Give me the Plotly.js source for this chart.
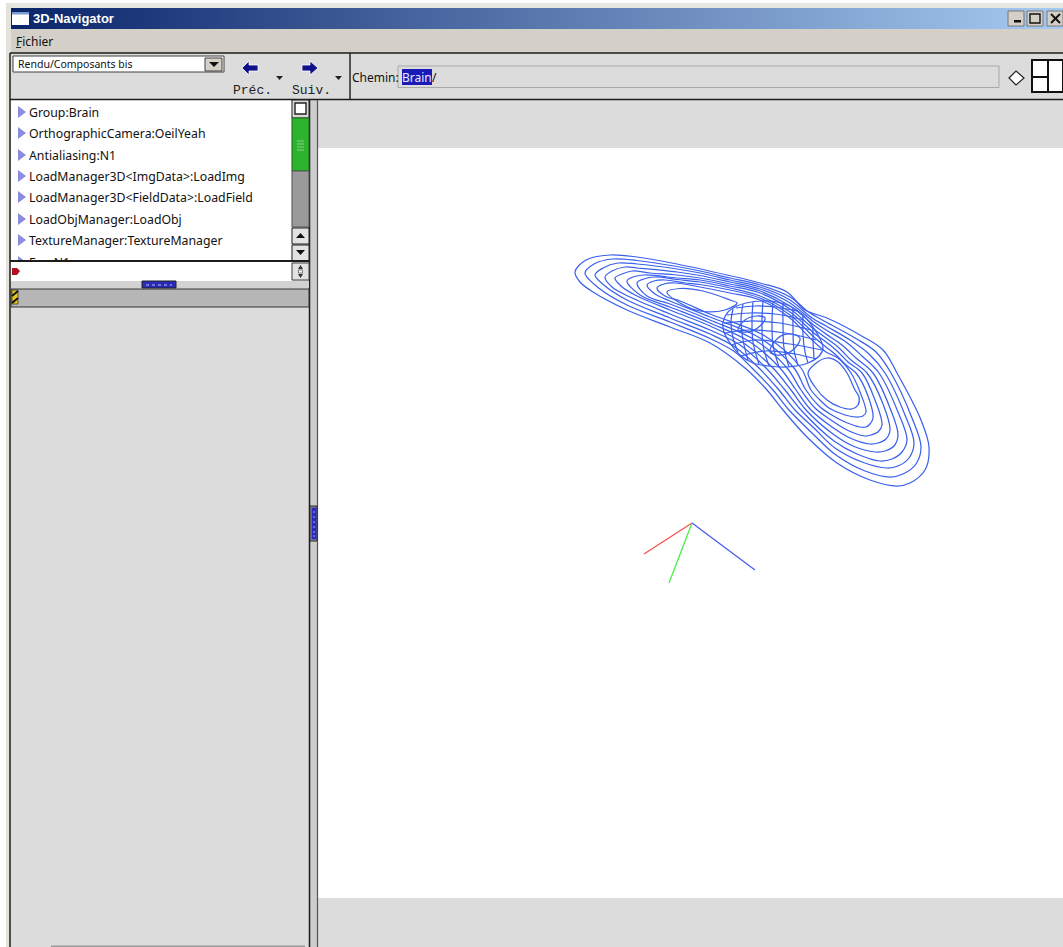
<!DOCTYPE html>
<html><head><meta charset="utf-8">
<script src="https://cdn.plot.ly/plotly-3.0.1.min.js"></script>
<style>html,body{margin:0;padding:0;background:#fff;overflow:hidden}</style>
</head><body><div id="chart" style="width:1063px;height:947px"></div>
<script>
// ---- contour data (screen-like units) ----
const level0=[[575,272],[586,260],[610,255],[637,257],[677,264],[727,275],[760,283],[787,292],[805,310],[827,318],[860,335],[883,350],[897,373],[921,420],[929,447],[925,470],[910,483],[897,486],[870,480],[837,463],[807,437],[783,410],[767,390],[745,368],[710,343],[670,327],[627,310],[593,292],[580,282],[575,272]];
const level1=[[585,273],[594,264],[612,259],[637,260.5],[677,266.5],[700,271],[730,278],[760,285],[790,297],[810,313],[826,322],[855,338],[876,352],[891,373],[912,418],[921,447],[916,464],[903,474],[890,477],[865,471],[836,455],[812,433],[789,410],[773,390],[752,368],[735,352],[710,338.5],[670,322],[627,305],[600,289],[585,273]];
const level2=[[595,275],[603,268],[618,263],[637,264],[677,269],[700,273],[730,280],[760,287],[790,300],[812,318],[826,326],[850,340],[869,354],[885,373],[905,415],[914,443],[909,458],[898,466],[887,468],[862,462],[835,448],[815,429],[795,410],[779,390],[759,368],[735,347],[710,334],[670,318],[627,300],[605,286],[595,275]];
const level3=[[605,277],[612,271],[625,267],[637,268],[677,272],[700,275.5],[730,282],[760,289],[790,303],[814,322],[826,330],[846,342],[862,356],[879,373],[898,412],[907,440],[902,452],[892,459],[880,461],[857,454],[834,441],[801,410],[785,390],[766,368],[740,345],[710,330],[670,314],[630,297],[612,287],[605,277]];
const level4=[[615,278],[622,274],[632,271],[650,273],[677,275],[700,278],[730,284],[760,291],[790,306],[815,326],[826,334],[842,345],[856,358],[873,373],[890,408],[898,435],[894,446],[885,451],[875,452],[853,446],[833,434],[806,410],[791,390],[773,368],[745,344],[710,326],[670,310],[635,295],[621,286],[615,278]];
const level5=[[627,281],[633,277],[645,275],[677,278],[700,280],[730,286],[760,293],[790,309],[815,330],[826,338],[838,347],[851,360],[867,373],[883,404],[890,430],[886,439],[878,443],[870,444],[850,438],[832,427],[811,410],[796,390],[780,368],[750,342],[710,323],[670,307],[640,295],[627,281]];
const level6=[[637,283],[644,279],[655,277],[677,279.5],[700,282],[730,288],[760,296],[790,312],[815,334],[826,342],[836,350],[848,362],[862,373],[875,400],[882,425],[878,432],[871,435],[865,436],[847,430],[831,420],[815,408],[801,390],[787,368],[755,340],[710,320],[670,304],[647,296],[637,283]];
const level7=[[647,285],[654,281],[665,280],[685,283],[700,284.5],[730,290],[760,298],[790,315],[815,338],[826,347],[836,355],[846,365],[856,373],[868,396],[873,418],[870,424],[866,427],[860,427],[845,422],[830,414],[819,406],[806,390],[794,368],[760,338],[710,317],[670,301],[655,294],[647,285]];
const level8=[[657,288],[664,284],[675,283],[700,287],[730,293],[760,300],[790,318],[812,340],[826,352],[838,358],[851,373],[860,392],[866,412],[863,416],[857,417],[845,415],[829,408],[822,402],[811,390],[801,368],[765,336],[710,314],[680,301],[665,296],[657,288]];
const holeLeft=[[667,292],[680,288.5],[703,291],[730,300],[737,303],[725,310],[700,311],[680,303],[667,292]];
const holeRight=[[808,373],[815,364],[827,358],[838,362],[847,373],[855,390],[859,397],[858,405],[852,409],[840,407],[827,400],[815,387],[808,373]];
const meshEdge=[[723,322],[728,312],[737,306],[746,303],[762,301],[777,302],[790,306],[803,315],[815,330],[823,347],[820,355],[808,363],[787,367],[768,366],[753,363],[740,355],[730,343],[724,332],[723,322]];
const meshArc1=[[733,309],[731,322],[733,338],[738,352]];
const meshArc2=[[743,304],[741,320],[743,340],[748,360]];
const meshArc3=[[753,302],[752,320],[753,342],[759,364]];
const meshArc4=[[763,301],[762,320],[763,345],[769,366]];
const meshArc5=[[773,302],[772,322],[773,345],[779,367]];
const meshArc6=[[783,304],[783,325],[784,348],[789,367]];
const meshArc7=[[793,308],[793,328],[794,350],[798,365]];
const meshArc8=[[803,315],[803,335],[805,352],[808,363]];
const meshArc9=[[813,328],[813,340],[814,358]];
const meshRow1=[[736,308],[755,306],[775,307],[797,311]];
const meshRow2=[[727,315],[750,313],[775,314],[804,320]];
const meshRow3=[[724,323],[750,321],[780,323],[811,330]];
const meshRow4=[[725,333],[750,330],[785,333],[816,340]];
const meshRow5=[[731,345],[755,340],[790,344],[822,350]];
const meshRow6=[[741,356],[765,351],[795,354],[816,359]];
const meshLoop1=[[738,330],[745,320],[756,316],[765,318],[760,326],[748,332],[738,330]];
const meshLoop2=[[770,352],[778,338],[790,334],[800,338],[795,348],[782,355],[770,352]];
const axisRed=[[692,523],[644,554]];
const axisGreen=[[692,523],[669,583]];
const axisBlue=[[692,523],[755,570]];
// ---- texts ----
const treeLabels=["Group:Brain","OrthographicCamera:OeilYeah","Antialiasing:N1","LoadManager3D<ImgData>:LoadImg","LoadManager3D<FieldData>:LoadField","LoadObjManager:LoadObj","TextureManager:TextureManager","Fog:N1"];
const treeRows=[112,133,155,176,197,219,240,262];

const contourColor='#3a60ee';
const traces=[];
// title bar gradient
traces.push({x:[11,1063,1063,11,11],y:[8,8,29,29,8],mode:'lines',line:{width:0},fill:'toself',
  fillgradient:{type:'horizontal',colorscale:[[0,'#0a246a'],[1,'#a6caf0']]},hoverinfo:'skip',showlegend:false});
[level0,level1,level2,level3,level4,level5,level6,level7,level8,holeLeft,holeRight,meshEdge,meshLoop1,meshLoop2,
 meshRow1,meshRow2,meshRow3,meshRow4,meshRow5,meshRow6,
 meshArc1,meshArc2,meshArc3,meshArc4,meshArc5,meshArc6,meshArc7,meshArc8,meshArc9].forEach(c=>{
  traces.push({x:c.map(p=>p[0]),y:c.map(p=>p[1]),mode:'lines',
    line:{color:contourColor,width:1.25,shape:'spline',smoothing:1},hoverinfo:'skip',showlegend:false});
});
[[axisRed,'#f65050'],[axisGreen,'#48f048'],[axisBlue,'#4a5cf0']].forEach(a=>{
  traces.push({x:a[0].map(p=>p[0]),y:a[0].map(p=>p[1]),mode:'lines',line:{color:a[1],width:1.3},hoverinfo:'skip',showlegend:false});
});
traces.push({x:treeRows.map(()=>29),y:treeRows.map(r=>r+1.5),text:treeLabels.map(s=>s.replace(/</g,'&lt;').replace(/>/g,'&gt;')),mode:'text',textposition:'middle right',
  textfont:{family:'"Noto Sans",sans-serif',size:12.3,color:'#111'},hoverinfo:'skip',showlegend:false});

function rect(x0,y0,x1,y1,fill,lc,lw,layer){return {type:'rect',xref:'x',yref:'y',x0,y0,x1,y1,fillcolor:fill,line:{color:lc||fill,width:lc?(lw||1):0},layer:layer||'below'};}
function ln(x0,y0,x1,y1,c,w,layer,dash){return {type:'line',xref:'x',yref:'y',x0,y0,x1,y1,line:{color:c,width:w||1,dash:dash||'solid'},layer:layer||'above'};}
function poly(d,fill,lc,lw,layer){return {type:'path',xref:'x',yref:'y',path:d,fillcolor:fill,line:{color:lc||fill,width:lc?(lw||1):0},layer:layer||'above'};}

const G='#dcdcdc',M='#d4d0c8';
const shapes=[
 // window frame
 rect(6,3,1063,8,'#e8e6e0'),
 rect(6,3,11,947,'#e4e2dc'),
 rect(11,29,1063,53,M),
 rect(11,53,1063,100,G),
 rect(318,100,1063,148,G),
 rect(318,898,1063,947,G),
 rect(11,100,309,947,G),
 rect(310,100,318,947,'#cdcdcd'),
 rect(51,945.5,305,947,'#9a9a9a'),
 rect(11,100,291.5,262,'#ffffff'),
 // lines
 ln(10,53,1063,53,'#1c1c1c',1.6),
 ln(350,53,350,99,'#1c1c1c',1.4),
 ln(10,99.5,1063,99.5,'#1c1c1c',1.4),
 ln(10,53,10,947,'#1c1c1c',1.5),
 ln(309.5,100,309.5,947,'#1c1c1c',1.5),
 ln(317.5,100,317.5,947,'#555',1.2),
 // combo
 rect(13,56,224,72,'#ffffff','#404040',1,'above'),
 rect(205,58,222,71,M,'#404040',1,'above'),
 poly('M209,62 L219,62 L214,67 Z','#111'),
 // nav arrows
 poly('M242,68 L249,61 L249,65 L258,65 L258,71 L249,71 L249,75 Z','#10108a','#ffffff',0.8),
 poly('M318,68 L310,61 L310,65 L302,65 L302,71 L310,71 L310,75 Z','#10108a','#ffffff',0.8),
 poly('M276,76 L283,76 L279.5,80 Z','#222'),
 poly('M335,76 L342,76 L338.5,80 Z','#222'),
 // path field
 rect(398,66,999,87.5,'#dcdcdc','#a8a8a8',1,'above'),
 rect(402,69,432,85,'#1a1ab8',null,0,'above'),
 poly('M1009,78 L1016,71 L1024,78 L1016,85 Z','#ffffff','#222',1.2),
 // layout icon
 rect(1032,60,1063,92,'#ffffff','#111',2,'above'),
 ln(1048,60,1048,92,'#111',2),
 ln(1032,77,1048,77,'#111',2),
 // window buttons
 rect(1008,11,1024,26,M,'#777',1,'above'),
 rect(1014,20,1021,22.5,'#111',null,0,'above'),
 rect(1027,11,1043,26,M,'#777',1,'above'),
 rect(1030,14,1040,23,M,'#111',1.4,'above'),
 rect(1047,11,1063,26,M,'#777',1,'above'),
 ln(1051,14,1060,23,'#111',2),
 ln(1060,14,1051,23,'#111',2),
 // title icon
 rect(12,12,29,25,'#ffffff',null,0,'above'),
 rect(12,12,29,14.5,'#7a9ad0',null,0,'above'),
 // menu underline
 ln(16,47.5,21,47.5,'#222',1),
 // scrollbar
 rect(292,100,309,118,'#d8d8d8','#222',1,'above'),
 rect(295,103,306,114,'#ffffff','#222',1.4,'above'),
 rect(292,118,309,171,'#2db32d','#1d6b1d',1,'above'),
 ln(297,141,304,141,'#8fd08f',1),ln(297,144,304,144,'#8fd08f',1),ln(297,147,304,147,'#8fd08f',1),ln(297,150,304,150,'#8fd08f',1),
 rect(292,171,309,227,'#9a9a9a','#555',1,'above'),
 rect(292,228,309,244,'#e2e2e2','#222',1,'above'),
 poly('M296,238 L305,238 L300.5,233 Z','#111'),
 rect(292,245,309,261,'#e2e2e2','#222',1,'above'),
 poly('M296,250 L305,250 L300.5,255 Z','#111'),
 // lower row covers the clipped tree row
 rect(11,262,291.5,281,'#ffffff',null,0,'above'),
 ln(10,261,309,261,'#1c1c1c',2),
 rect(292,263,309,280,'#e2e2e2','#444',1,'above'),
 poly('M300.5,265 L303,269 L298,269 Z','#333'),
 poly('M300.5,278 L303,274 L298,274 Z','#333'),
 rect(298.5,270,302.5,273,'#ffffff','#333',0.6,'above'),
 poly('M12,268 L17,268 L20,271 L17,275 L12,275 Z','#b01020'),
 rect(11,281,309,288,'#d2d2d2',null,0,'above'),
 rect(142,281,176,288,'#2a2ab8','#222',1,'above'),
 ln(146,285,172,285,'#c0c0f0',1,'above','dot'),
 // gray bar
 rect(11,289,309,307,'#b6b6b6','#333',1,'above'),
 rect(12,290,18,304,'#e6c81e','#111',0.6,'above'),
 ln(12,296,18,291,'#111',2),
 ln(12,303,18,298,'#111',2),
 // splitter handle
 rect(310,506,317,541,'#9a9aa8','#222',1,'above'),
 rect(311.5,507.5,316.5,539.5,'#2a2ac0',null,0,'above'),
 ln(313,512,315,512,'#a8a8e8',1),ln(313,517,315,517,'#a8a8e8',1),ln(313,522,315,522,'#a8a8e8',1),ln(313,527,315,527,'#a8a8e8',1),ln(313,532,315,532,'#a8a8e8',1),ln(313,536,315,536,'#a8a8e8',1),
];
// tree markers
treeRows.forEach(r=>shapes.push(poly('M18,'+(r-6)+' L26,'+r+' L18,'+(r+6)+' Z','#8a8adf',null,0,'below')));

function txt(t,x,y,fam,size,col,extra){return Object.assign({text:t,x,y,xref:'x',yref:'y',xanchor:'left',yanchor:'middle',showarrow:false,font:{family:fam,size,color:col},borderpad:0,borderwidth:0},extra||{});}
const NS='"Noto Sans",sans-serif';
const annotations=[
 txt('3D-Navigator',33,18.5,'"Liberation Sans",sans-serif',13,'#ffffff',{text:'<b>3D-Navigator</b>'}),
 txt('Fichier',16,41,NS,12,'#111'),
 txt('Rendu/Composants bis',18,64,NS,10.5,'#111'),
 txt('Préc.',233,90,'"Liberation Mono",monospace',13,'#222'),
 txt('Suiv.',292,90,'"Liberation Mono",monospace',13,'#222'),
 txt('Chemin:',352,77,NS,12,'#111'),
 txt('Brain',402,77,NS,12,'#e8e8ff'),
 txt('/',432,77,NS,12,'#111'),
];

Plotly.newPlot('chart',traces,{
  width:1063,height:947,margin:{l:0,r:0,t:0,b:0},
  paper_bgcolor:'#ffffff',plot_bgcolor:'#ffffff',showlegend:false,
  xaxis:{range:[0,1063],visible:false,fixedrange:true},
  yaxis:{range:[947,0],visible:false,fixedrange:true},
  shapes,annotations
},{staticPlot:true,displayModeBar:false});
</script></body></html>
